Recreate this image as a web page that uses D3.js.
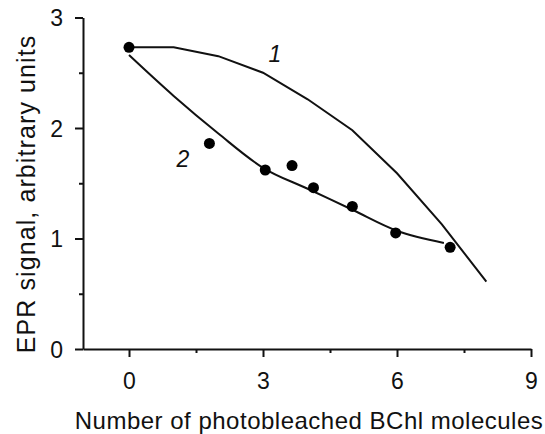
<!DOCTYPE html>
<html>
<head>
<meta charset="utf-8">
<script src="https://cdn.jsdelivr.net/npm/d3@7"></script>
<style>
  html, body { margin: 0; padding: 0; background: #fff; }
  svg text { font-family: "Liberation Sans", Arial, Helvetica, sans-serif; fill: #111; }
</style>
</head>
<body>
<div id="chart-area"></div>
<script>
// measured points
const dotX = [0, 1.8, 3.05, 3.65, 4.13, 5.0, 5.97, 7.19];
const dotY = [2.73, 1.86, 1.62, 1.66, 1.46, 1.29, 1.05, 0.92];

// curve 1 (upper)
const curve1X = [0, 1, 2, 3, 4, 5, 6, 7, 8];
const curve1Y = [2.73, 2.73, 2.65, 2.50, 2.26, 1.98, 1.59, 1.13, 0.61];

// curve 2 (fit through the points)
const curve2X = [0, 1, 2, 3, 4, 5, 6, 7.05];
const curve2Y = [2.66, 2.29, 1.95, 1.64, 1.45, 1.26, 1.07, 0.96];

const xTicks = [0, 3, 6, 9];
const xMinorTicks = [1.5, 4.5, 7.5];
const yTicks = [0, 1, 2, 3];
const yMinorTicks = [0.5, 1.5, 2.5];

const curveLabels = ["1", "2"];

const width = 545;
const height = 434;

const svg = d3.select("#chart-area")
  .append("svg")
  .attr("width", width)
  .attr("height", height);

const x = d3.scaleLinear()
  .domain([-1.03, 9])
  .range([83, 531]);

const y = d3.scaleLinear()
  .domain([0, 3])
  .range([349, 17.5]);

// axes
const xAxisG = svg.append("g")
  .attr("transform", `translate(0, ${y(0)})`)
  .call(d3.axisBottom(x).tickValues(xTicks).tickSize(8).tickSizeOuter(0).tickFormat(d3.format("d")));

svg.append("g")
  .attr("transform", `translate(0, ${y(0)})`)
  .call(d3.axisBottom(x).tickValues(xMinorTicks).tickSize(4).tickFormat(""))
  .select(".domain").remove();

const yAxisG = svg.append("g")
  .attr("transform", `translate(${x(-1.03)}, 0)`)
  .call(d3.axisLeft(y).tickValues(yTicks).tickSize(8).tickSizeOuter(0).tickPadding(12).tickFormat(d3.format("d")));

svg.append("g")
  .attr("transform", `translate(${x(-1.03)}, 0)`)
  .call(d3.axisLeft(y).tickValues(yMinorTicks).tickSize(4).tickFormat(""))
  .select(".domain").remove();

svg.selectAll(".domain").attr("stroke", "#111").attr("stroke-width", 2);
svg.selectAll(".tick line").attr("stroke", "#111").attr("stroke-width", 2);
svg.selectAll(".tick text")
  .attr("font-size", 23)
  .attr("fill", "#111");

xAxisG.selectAll(".tick text").attr("y", 40).attr("dy", 0);
yAxisG.selectAll(".tick text").attr("dy", "0.36em");

// axis titles
svg.append("text")
  .attr("x", 309)
  .attr("y", 429)
  .attr("text-anchor", "middle")
  .attr("font-size", 24)
  .attr("letter-spacing", 0.5)
  .text("Number of photobleached BChl molecules");

svg.append("text")
  .attr("transform", `translate(35, ${(35 + 353) / 2}) rotate(-90)`)
  .attr("text-anchor", "middle")
  .attr("font-size", 25)
  .attr("letter-spacing", 1.1)
  .text("EPR signal, arbitrary units");

// curves
const line1 = d3.line()
  .x((d, i) => x(curve1X[i]))
  .y(d => y(d))
  .curve(d3.curveLinear);

const line2 = d3.line()
  .x((d, i) => x(curve2X[i]))
  .y(d => y(d))
  .curve(d3.curveMonotoneX);

svg.append("path")
  .attr("d", line1(curve1Y))
  .attr("fill", "none")
  .attr("stroke", "#111")
  .attr("stroke-width", 2);

svg.append("path")
  .attr("d", line2(curve2Y))
  .attr("fill", "none")
  .attr("stroke", "#111")
  .attr("stroke-width", 2);

// points
svg.selectAll("circle")
  .data(dotY)
  .enter()
  .append("circle")
  .attr("cx", (d, i) => x(dotX[i]))
  .attr("cy", d => y(d))
  .attr("r", 5.5)
  .attr("fill", "#000");

// curve numbers
svg.append("text")
  .attr("x", 275)
  .attr("y", 62)
  .attr("text-anchor", "middle")
  .attr("font-size", 23)
  .attr("font-style", "italic")
  .text(curveLabels[0]);

svg.append("text")
  .attr("x", 183)
  .attr("y", 167)
  .attr("text-anchor", "middle")
  .attr("font-size", 23)
  .attr("font-style", "italic")
  .text(curveLabels[1]);
</script>
</body>
</html>
